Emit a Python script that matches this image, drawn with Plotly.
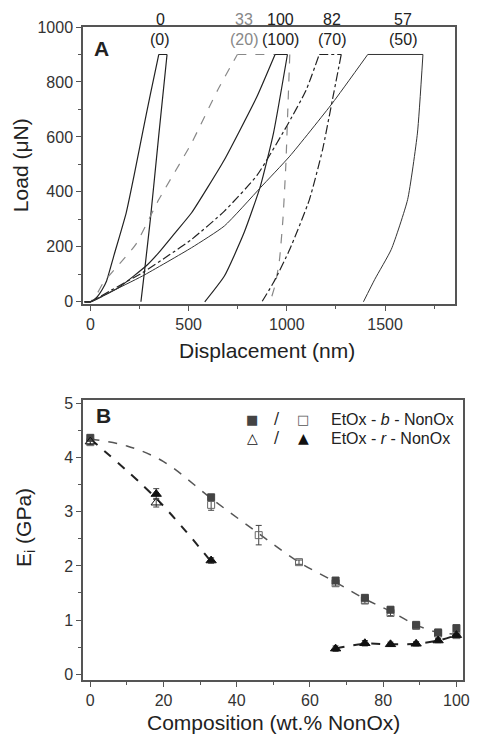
import plotly.graph_objects as go

# ---------------- Panel A data (load-displacement curves) ----------------
# each curve: loading branch, then unloading branch (hold at peak joins them)
c0_load_x = [-30, 0, 30, 60, 82, 120, 182, 225, 265, 305, 348]
c0_load_y = [0, 0, 15, 45, 76, 170, 324, 470, 614, 755, 900]
c0_unl_x = [390, 347, 305, 275, 257]
c0_unl_y = [900, 600, 300, 110, 0]

c33_load_x = [-30, 0, 30, 65, 150, 232, 348, 515, 648, 748]
c33_load_y = [0, 0, 25, 69, 140, 210, 372, 578, 771, 900]
c33_unl_x = [1015, 1005, 995, 980, 962, 940, 915]
c33_unl_y = [900, 700, 500, 300, 150, 60, 0]

c100_load_x = [-30, 0, 60, 150, 290, 348, 430, 515, 600, 682, 765, 848, 940]
c100_load_y = [0, 0, 20, 55, 135, 179, 250, 324, 420, 517, 630, 747, 900]
c100_unl_x = [1003, 932, 865, 782, 682, 582]
c100_unl_y = [900, 614, 420, 251, 94, 0]

c82_load_x = [-30, 0, 100, 265, 400, 515, 682, 848, 1000, 1098, 1165]
c82_load_y = [0, 0, 40, 106, 170, 227, 330, 460, 640, 770, 900]
c82_unl_x = [1277, 1232, 1182, 1115, 1015, 932, 873]
c82_unl_y = [900, 735, 554, 372, 191, 70, 0]

c57_load_x = [-30, 0, 100, 265, 515, 682, 865, 1015, 1232, 1412]
c57_load_y = [0, 0, 35, 94, 197, 276, 415, 530, 723, 900]
c57_unl_x = [1693, 1665, 1615, 1532, 1448, 1390]
c57_unl_y = [900, 614, 372, 191, 82, 0]

top_labels = ["0", "33", "100", "82", "57"]
sub_labels = ["(0)", "(20)", "(100)", "(70)", "(50)"]
label_x = [355, 784, 970, 1228, 1590]
label_colors = ["#222", "#888", "#222", "#222", "#222"]

# ---------------- Panel B data (modulus vs composition) ----------------
bf_x = [0, 33, 67, 75, 82, 89, 95, 100]
bf_y = [4.37, 3.27, 1.73, 1.41, 1.19, 0.91, 0.77, 0.85]
bf_e = [0.05, 0.05, 0.05, 0.05, 0.05, 0.03, 0.03, 0.03]

bo_x = [0, 33, 46, 57, 67, 75, 82, 89, 95, 100]
bo_y = [4.29, 3.13, 2.57, 2.07, 1.68, 1.36, 1.13, 0.89, 0.75, 0.72]
bo_e = [0.05, 0.1, 0.18, 0.04, 0.05, 0.05, 0.05, 0.03, 0.03, 0.03]

ro_x = [0, 18]
ro_y = [4.30, 3.17]
ro_e = [0.05, 0.08]

rf_x = [18, 33, 67, 75, 82, 89, 95, 100]
rf_y = [3.33, 2.10, 0.47, 0.57, 0.55, 0.56, 0.62, 0.72]
rf_e = [0.1, 0.05, 0.05, 0.05, 0.04, 0.04, 0.04, 0.04]

fitb_x = [0, 10, 20, 33, 46, 57, 67, 75, 82, 89, 95, 100]
fitb_y = [4.35, 4.22, 3.93, 3.25, 2.6, 2.07, 1.7, 1.39, 1.16, 0.91, 0.77, 0.74]

fitr1_x = [0, 18, 33]
fitr1_y = [4.35, 3.25, 2.08]
fitr2_x = [67, 75, 82, 89, 95, 100]
fitr2_y = [0.47, 0.56, 0.55, 0.56, 0.62, 0.72]

fig = go.Figure()

def seg(x, y, color, dash, width, shape):
    fig.add_trace(go.Scatter(x=x, y=y, mode="lines", xaxis="x", yaxis="y",
                             line=dict(color=color, dash=dash, width=width, shape=shape, smoothing=0.5),
                             showlegend=False, hoverinfo="skip"))

def curve(lx, ly, ux, uy, color, dash, width=1.2):
    seg(lx, ly, color, dash, width, "spline")
    seg([lx[-1], ux[0]], [ly[-1], uy[0]], color, dash, width, "linear")
    seg(ux, uy, color, dash, width, "spline")

curve(c0_load_x, c0_load_y, c0_unl_x, c0_unl_y, "#222", "solid")
curve(c33_load_x, c33_load_y, c33_unl_x, c33_unl_y, "#888", "dash")
curve(c100_load_x, c100_load_y, c100_unl_x, c100_unl_y, "#222", "solid")
curve(c82_load_x, c82_load_y, c82_unl_x, c82_unl_y, "#222", "dashdot")
curve(c57_load_x, c57_load_y, c57_unl_x, c57_unl_y, "#333", "solid", 1.0)

# Panel B fits
fig.add_trace(go.Scatter(x=fitb_x, y=fitb_y, mode="lines", xaxis="x2", yaxis="y2",
                         line=dict(color="#555", dash="dash", width=1.5, shape="spline"),
                         showlegend=False))
fig.add_trace(go.Scatter(x=fitr1_x, y=fitr1_y, mode="lines", xaxis="x2", yaxis="y2",
                         line=dict(color="#222", dash="dash", width=2, shape="spline"),
                         showlegend=False))
fig.add_trace(go.Scatter(x=fitr2_x, y=fitr2_y, mode="lines", xaxis="x2", yaxis="y2",
                         line=dict(color="#222", dash="dash", width=2, shape="spline"),
                         showlegend=False))

def pts(x, y, e, symbol, color, lc, size):
    fig.add_trace(go.Scatter(x=x, y=y, mode="markers", xaxis="x2", yaxis="y2",
                             marker=dict(symbol=symbol, color=color, size=size,
                                         line=dict(color=lc, width=1)),
                             error_y=dict(type="data", array=e, color="#444", thickness=1, width=3),
                             showlegend=False))

pts(bo_x, bo_y, bo_e, "square-open", "#666", "#666", 7)
pts(bf_x, bf_y, bf_e, "square", "#444", "#444", 7)
pts(ro_x, ro_y, ro_e, "triangle-up-open", "#111", "#111", 9)
pts(rf_x, rf_y, rf_e, "triangle-up", "#111", "#111", 9)

ann = []
YA0, YA1 = -8, 1000
def ydom(v):
    return (v - YA0) / (YA1 - YA0)

for t, s, x, c in zip(top_labels, sub_labels, label_x, label_colors):
    ann.append(dict(x=x, y=ydom(1029), xref="x", yref="y domain", text=t, showarrow=False,
                    xanchor="center", yanchor="middle", font=dict(size=16, color=c)))
    ann.append(dict(x=x, y=ydom(955), xref="x", yref="y domain", text=s, showarrow=False,
                    xanchor="center", yanchor="middle", font=dict(size=16, color=c)))
ann.append(dict(x=57, y=922, xref="x", yref="y", text="<b>A</b>", showarrow=False,
                xanchor="center", yanchor="middle", font=dict(size=21, color="#222")))
ann.append(dict(x=3.6, y=4.79, xref="x2", yref="y2", text="<b>B</b>", showarrow=False,
                xanchor="center", yanchor="middle", font=dict(size=21, color="#222")))
# legend rows in panel B
leg = [("■", 44.2, 4.71, "#444", 13), ("/", 50.9, 4.71, "#222", 15), ("□", 58.1, 4.71, "#555", 13),
       ("△", 44.2, 4.36, "#111", 14), ("/", 50.9, 4.36, "#222", 15), ("▲", 58.1, 4.36, "#111", 14)]
for t, x, y, c, s in leg:
    ann.append(dict(x=x, y=y, xref="x2", yref="y2", text=t, showarrow=False,
                    xanchor="center", yanchor="middle",
                    font=dict(size=s, color=c, family="DejaVu Sans")))
ann.append(dict(x=65.1, y=4.71, xref="x2", yref="y2", xanchor="left", yanchor="middle",
                text="EtOx - <i>b</i> - NonOx", showarrow=False, font=dict(size=16, color="#222")))
ann.append(dict(x=65.1, y=4.36, xref="x2", yref="y2", xanchor="left", yanchor="middle",
                text="EtOx - <i>r</i> - NonOx", showarrow=False, font=dict(size=16, color="#222")))

L, R, T, B = 83, 8, 27, 56
PW, PH = 478 - L - R, 736 - T - B
def px(x):
    return (x - L) / PW
def py(y):
    return (736 - B - y) / PH

# axis titles
ann.append(dict(x=px(20), y=py(165), xref="paper", yref="paper", text="Load (μN)", textangle=-90,
                xanchor="center", yanchor="middle", showarrow=False, font=dict(size=21, color="#222")))
ann.append(dict(x=px(270), y=py(350), xref="paper", yref="paper", xanchor="center", yanchor="middle",
                text="Displacement (nm)", showarrow=False, font=dict(size=21, color="#222")))
ann.append(dict(x=px(24), y=py(528), xref="paper", yref="paper", text="E<sub>i</sub> (GPa)",
                textangle=-90, xanchor="center", yanchor="middle", showarrow=False,
                font=dict(size=21, color="#222")))
ann.append(dict(x=px(277), y=py(722), xref="paper", yref="paper", xanchor="center", yanchor="middle",
                text="Composition (wt.% NonOx)", showarrow=False, font=dict(size=21, color="#222")))

axstyle = dict(showline=True, linecolor="#555", linewidth=1.5, mirror=True, ticks="outside",
               ticklen=5, tickwidth=1.2, tickcolor="#555", showgrid=False, zeroline=False,
               tickfont=dict(size=16, color="#333"))

fig.update_layout(
    width=478, height=736,
    margin=dict(l=L, r=R, t=T, b=B),
    paper_bgcolor="white", plot_bgcolor="white",
    font=dict(family="Liberation Sans, Arial, sans-serif"),
    showlegend=False,
    xaxis=dict(domain=[0, px(462)], anchor="y", range=[-38, 1857], tickvals=[0, 500, 1000, 1500],
               minor=dict(ticks="outside", ticklen=3, dtick=250, tickcolor="#555"), **axstyle),
    yaxis=dict(domain=[py(304), 1], anchor="x", range=[YA0, YA1], tickvals=[0, 200, 400, 600, 800, 1000],
               minor=dict(ticks="outside", ticklen=3, dtick=100, tickcolor="#555"), **axstyle),
    xaxis2=dict(domain=[0, 1], anchor="y2", range=[-2, 101.8], tickvals=[0, 20, 40, 60, 80, 100],
                minor=dict(ticks="outside", ticklen=3, dtick=10, tickcolor="#555"), **axstyle),
    yaxis2=dict(domain=[0, py(400)], anchor="x2", range=[-0.11, 5.07], tickvals=[0, 1, 2, 3, 4, 5],
                minor=dict(ticks="outside", ticklen=3, dtick=0.5, tickcolor="#555"), **axstyle),
    annotations=ann,
)

fig.write_html("out.html")
